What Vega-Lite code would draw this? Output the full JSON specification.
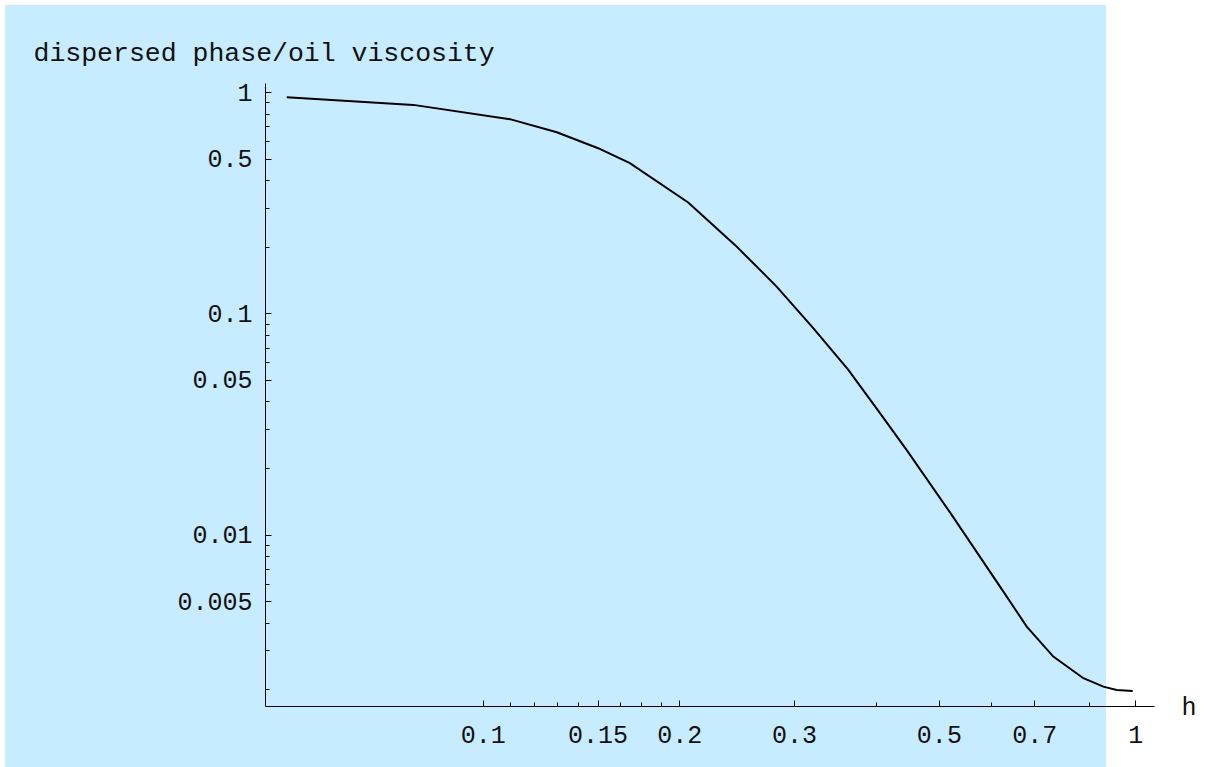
{
  "$schema": "https://vega.github.io/schema/vega-lite/v6.json",
  "autosize": "none",
  "width": 889,
  "height": 623,
  "padding": {"left": 265, "top": 83, "right": 54, "bottom": 61},
  "background": "white",
  "config": {"view": {"stroke": null}},
  "data": {"values": [
    {"h": 0.0501, "v": 0.949},
    {"h": 0.0783, "v": 0.876},
    {"h": 0.1101, "v": 0.755},
    {"h": 0.1299, "v": 0.659},
    {"h": 0.1503, "v": 0.558},
    {"h": 0.1681, "v": 0.478},
    {"h": 0.2065, "v": 0.317},
    {"h": 0.2435, "v": 0.204},
    {"h": 0.2821, "v": 0.1322},
    {"h": 0.3210, "v": 0.0857},
    {"h": 0.3633, "v": 0.0555},
    {"h": 0.4062, "v": 0.0354},
    {"h": 0.4464, "v": 0.0241},
    {"h": 0.520, "v": 0.0126},
    {"h": 0.6204, "v": 0.00582},
    {"h": 0.6817, "v": 0.00384},
    {"h": 0.7487, "v": 0.00281},
    {"h": 0.8325, "v": 0.002243},
    {"h": 0.8933, "v": 0.002055},
    {"h": 0.9365, "v": 0.001986},
    {"h": 0.9908, "v": 0.001965}
  ]},
  "resolve": {"axis": {"x": "independent", "y": "independent"}},
  "layer": [
    {
      "mark": {"type": "rect", "color": "#C7EBFF", "clip": false},
      "encoding": {
        "x": {"datum": 0.0186, "type": "quantitative",
              "scale": {"type": "log", "domain": [0.0464, 1.068], "nice": false, "zero": false},
              "axis": {"orient": "bottom", "values": [0.11, 0.12, 0.13, 0.14, 0.1625, 0.175, 0.1875, 0.4, 0.6, 0.85],
                       "labels": false, "domain": false, "grid": false, "title": null,
                       "tickSize": -4, "tickColor": "black", "tickWidth": 1, "zindex": 2}},
        "x2": {"datum": 0.8993},
        "y": {"datum": 0.0005, "type": "quantitative",
              "scale": {"type": "log", "domain": [0.00168, 1.1], "nice": false, "zero": false},
              "axis": {"orient": "left", "values": [0.9, 0.8, 0.7, 0.6, 0.4, 0.3, 0.2, 0.09, 0.08, 0.07, 0.06, 0.04, 0.03, 0.02, 0.009, 0.008, 0.007, 0.006, 0.004, 0.003, 0.002],
                       "labels": false, "domain": false, "grid": false, "title": null,
                       "tickSize": -4, "tickColor": "black", "tickWidth": 1, "zindex": 2}},
        "y2": {"datum": 2.48}
      }
    },
    {
      "mark": {"type": "line", "color": "black", "strokeWidth": 2, "interpolate": "linear"},
      "encoding": {
        "x": {"field": "h", "type": "quantitative",
              "scale": {"type": "log", "domain": [0.0464, 1.068], "nice": false, "zero": false},
              "axis": {"orient": "bottom", "values": [0.1, 0.15, 0.2, 0.3, 0.5, 0.7, 1], "format": "~g",
                       "labelFont": "Liberation Mono", "labelFontSize": 25, "labelColor": "#111111",
                       "labelPadding": 22, "labelBaseline": "top", "labelOverlap": false, "labelFlush": false, "labelBound": false,
                       "domain": true, "domainColor": "black", "domainWidth": 1,
                       "tickSize": -6, "tickColor": "black", "tickWidth": 1, "grid": false, "zindex": 2,
                       "title": "h", "titleFont": "Liberation Mono", "titleFontSize": 25, "titleFontWeight": "normal",
                       "titleColor": "#111111", "titleAnchor": "start", "titleAlign": "left", "titleBaseline": "alphabetic",
                       "titleX": 916, "titleY": 8, "titleAngle": 0}},
        "y": {"field": "v", "type": "quantitative",
              "scale": {"type": "log", "domain": [0.00168, 1.1], "nice": false, "zero": false},
              "axis": {"orient": "left", "values": [0.005, 0.01, 0.05, 0.1, 0.5, 1], "format": "~g",
                       "labelFont": "Liberation Mono", "labelFontSize": 25, "labelColor": "#111111",
                       "labelPadding": 19, "labelOverlap": false, "labelFlush": false, "labelBound": false,
                       "domain": true, "domainColor": "black", "domainWidth": 1,
                       "tickSize": -6, "tickColor": "black", "tickWidth": 1, "grid": false, "zindex": 2,
                       "title": "dispersed phase/oil viscosity", "titleFont": "Liberation Mono", "titleFontSize": 26.5,
                       "titleFontWeight": "normal", "titleColor": "#111111", "titleAngle": 0,
                       "titleAlign": "left", "titleBaseline": "alphabetic", "titleAnchor": "start",
                       "titleX": -232, "titleY": -23}}
      }
    }
  ]
}
